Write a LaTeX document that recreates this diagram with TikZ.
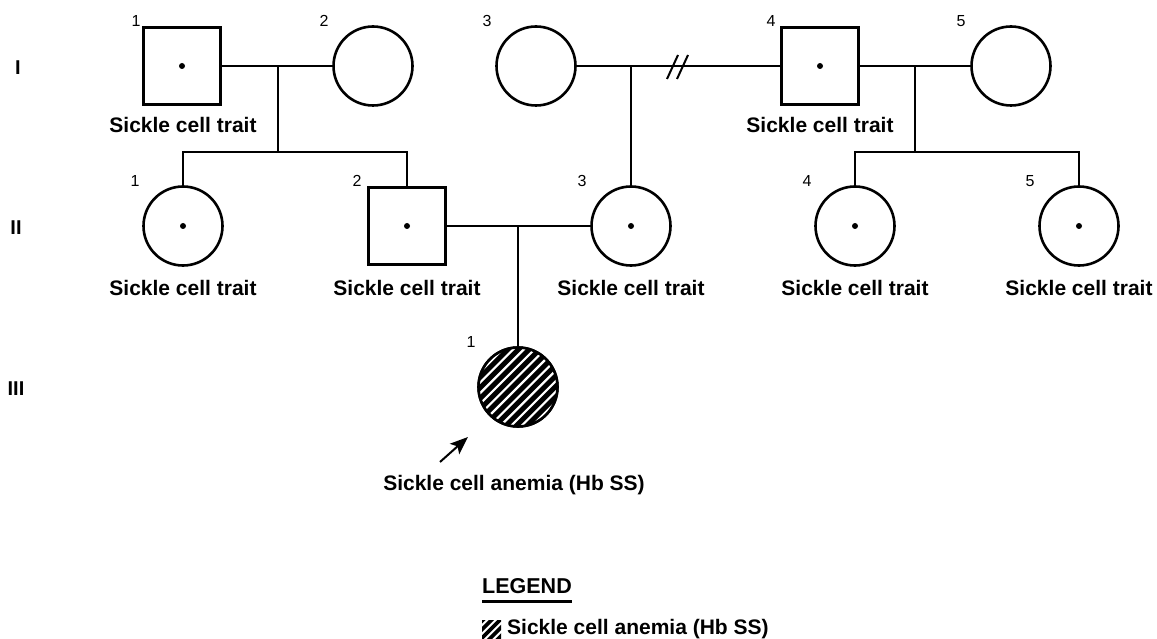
\documentclass[tikz,border=0pt]{standalone}
\usepackage{fontspec}
\setmainfont{Liberation Sans}
\usetikzlibrary{arrows.meta}
\tikzset{
  shapeline/.style={line width=2.6pt},
  male/.style={shapeline, draw, rectangle, minimum size=77pt, inner sep=0pt},
  female/.style={shapeline, draw, circle, minimum size=79pt, inner sep=0pt},
  rel/.style={line width=2pt},
  carrierdot/.style={circle, fill=black, minimum size=6pt, inner sep=0pt},
  trait/.style={anchor=base, font=\fontsize{21}{24}\selectfont\bfseries},
  idnum/.style={anchor=base, font=\fontsize{16}{19}\selectfont},
  gen/.style={anchor=base, font=\fontsize{20}{23}\selectfont\bfseries},
}
\begin{document}
\begin{tikzpicture}[x=1pt,y=-1pt]
\useasboundingbox (0,0) rectangle (1157,639);

% Generation labels
\node[gen] (gI) at (18,75) {I};
\node[gen] (gII) at (16,235) {II};
\node[gen] (gIII) at (16,395) {III};

% Generation I
\node[male] (I1) at (182,66) {};
\node[carrierdot] at (I1.center) {};
\node[female] (I2) at (373,66) {};
\node[female] (I3) at (536,66) {};
\node[male] (I4) at (820,66) {};
\node[carrierdot] at (I4.center) {};
\node[female] (I5) at (1011,66) {};

\node[idnum] (n11) at (136,27) {1};
\node[idnum] (n12) at (324,27) {2};
\node[idnum] (n13) at (487,27) {3};
\node[idnum] (n14) at (771,27) {4};
\node[idnum] (n15) at (961,27) {5};

\node[trait] (t11) at (183,133) {Sickle cell trait};
\node[trait] (t14) at (820,133) {Sickle cell trait};

% Generation II
\node[female] (II1) at (183,226) {};
\node[carrierdot] at (II1.center) {};
\node[male] (II2) at (407,226) {};
\node[carrierdot] at (II2.center) {};
\node[female] (II3) at (631,226) {};
\node[carrierdot] at (II3.center) {};
\node[female] (II4) at (855,226) {};
\node[carrierdot] at (II4.center) {};
\node[female] (II5) at (1079,226) {};
\node[carrierdot] at (II5.center) {};

\node[idnum] (n21) at (135,187) {1};
\node[idnum] (n22) at (357,187) {2};
\node[idnum] (n23) at (582,187) {3};
\node[idnum] (n24) at (807,187) {4};
\node[idnum] (n25) at (1030,187) {5};

\node[trait] (t21) at (183,295) {Sickle cell trait};
\node[trait] (t22) at (407,295) {Sickle cell trait};
\node[trait] (t23) at (631,295) {Sickle cell trait};
\node[trait] (t24) at (855,295) {Sickle cell trait};
\node[trait] (t25) at (1079,295) {Sickle cell trait};

% Generation III
\node[female, fill=black] (III1) at (518,387) {};
\begin{scope}
  \clip (518,387) circle (38.5pt);
  \foreach \k in {-9,...,9}
    \draw[white, line width=2.2pt] ({518-80+\k*10.6},{387+80}) -- ++(160,-160);
\end{scope}
\draw[shapeline] (518,387) circle (39.5pt);
\node[idnum] (n31) at (471,347) {1};

% couple / descent lines
\coordinate (m1) at (278,66);
\coordinate (s1) at (278,152);
\draw[rel] (I1.east) -- (I2.west);
\draw[rel] (m1) -- (s1);
\draw[rel] (II1.north) |- (s1) -| (II2.north);

\coordinate (m2) at (631,66);
\draw[rel] (I3.east) -- (I4.west);
\draw[rel] (m2) -- (II3.north);
\coordinate (b1a) at (667,79); \coordinate (b1b) at (678,55);
\coordinate (b2a) at (677,79); \coordinate (b2b) at (688,55);
\draw[rel] (b1a) -- (b1b);
\draw[rel] (b2a) -- (b2b);

\coordinate (m3) at (915,66);
\coordinate (s3) at (915,152);
\draw[rel] (I4.east) -- (I5.west);
\draw[rel] (m3) -- (s3);
\draw[rel] (II4.north) |- (s3) -| (II5.north);

\coordinate (m4) at (518,226);
\draw[rel] (II2.east) -- (II3.west);
\draw[rel] (m4) -- (III1.north);

% proband arrow and label
\coordinate (pa) at (440,462);
\coordinate (pb) at (468,437);
\draw[line width=2pt, -{Stealth[length=18pt,width=14pt,inset=4pt]}] (pa) -- (pb);
\node[trait] (plabel) at (514,490) {Sickle cell anemia (Hb SS)};

% Legend
\node[anchor=base west, inner sep=0pt, font=\fontsize{21.5}{24}\selectfont\bfseries] (leg) at (482,593) {LEGEND};
\draw[line width=3pt] (leg.base west) ++(0,8) coordinate (ul1) -- (leg.base east |- ul1);
\begin{scope}
  \clip (482,620) rectangle (501,638);
  \foreach \k in {-3,...,3}
    \draw[black, line width=3.6pt] ({482-5+\k*8.5},{638+5}) -- ++(30,-30);
\end{scope}
\node[anchor=base west, inner sep=0pt, font=\fontsize{21}{24}\selectfont\bfseries] (legtext) at (507,634) {Sickle cell anemia (Hb SS)};
\end{tikzpicture}
\end{document}
